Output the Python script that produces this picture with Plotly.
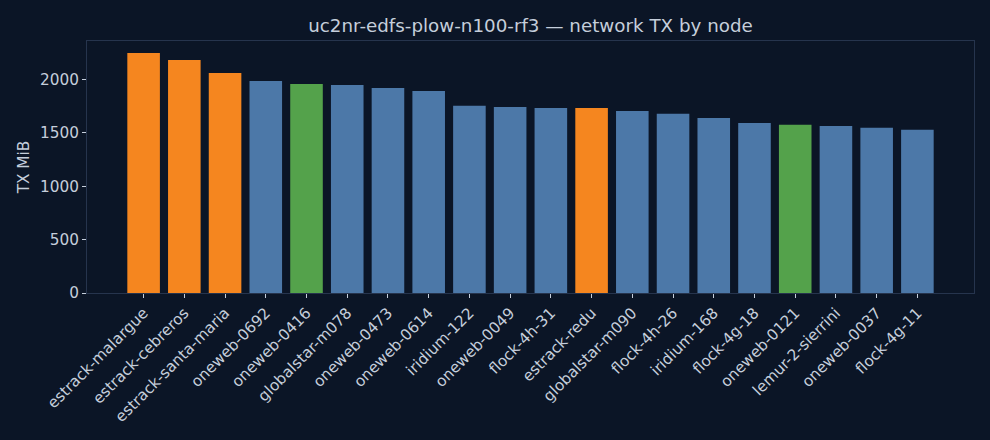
import plotly.graph_objects as go

# Node TX totals (MiB)
nodes = [
    "estrack-malargue", "estrack-cebreros", "estrack-santa-maria", "oneweb-0692",
    "oneweb-0416", "globalstar-m078", "oneweb-0473", "oneweb-0614", "iridium-122",
    "oneweb-0049", "flock-4h-31", "estrack-redu", "globalstar-m090", "flock-4h-26",
    "iridium-168", "flock-4g-18", "oneweb-0121", "lemur-2-sierrini", "oneweb-0037",
    "flock-4g-11",
]
tx_mib = [
    2250, 2184, 2062, 1988, 1959, 1950, 1922, 1894, 1754, 1744,
    1735, 1735, 1707, 1679, 1641, 1594, 1576, 1566, 1548, 1529,
]
# node role: ground station / relay / satellite
roles = [
    "ground", "ground", "ground", "sat", "relay", "sat", "sat", "sat", "sat", "sat",
    "sat", "ground", "sat", "sat", "sat", "sat", "relay", "sat", "sat", "sat",
]

ROLE_COLORS = {"ground": "#f5861f", "relay": "#54a24b", "sat": "#4c78a8"}
BG = "#0b1526"
TEXT = "#c5cedb"
SPINE = "#26344d"

fig = go.Figure(
    go.Bar(
        x=list(range(len(nodes))),
        y=tx_mib,
        width=0.8,
        marker_color=[ROLE_COLORS[r] for r in roles],
        marker_line_width=0,
    )
)

fig.update_layout(
    width=990,
    height=440,
    paper_bgcolor=BG,
    plot_bgcolor=BG,
    font=dict(family="DejaVu Sans", color=TEXT, size=15),
    margin=dict(l=87, r=16, t=41, b=147),
    showlegend=False,
    title=dict(
        text="uc2nr-edfs-plow-n100-rf3 — network TX by node",
        x=0.5, xref="paper", xanchor="center",
        y=1 - 26 / 440, yref="container", yanchor="middle",
        font=dict(size=18.3, color=TEXT),
    ),
)

fig.update_xaxes(
    range=[-1.39, 20.39],
    tickmode="array",
    tickvals=list(range(len(nodes))),
    ticktext=nodes,
    tickangle=-45,
    tickfont=dict(size=15.3),
    ticks="outside", ticklen=4, tickcolor=TEXT,
    showgrid=False, zeroline=False,
    showline=True, linecolor=SPINE, linewidth=1, mirror=True,
)
fig.update_yaxes(
    range=[0, 2362],
    tickvals=[0, 500, 1000, 1500, 2000],
    tickfont=dict(size=15.3),
    ticks="outside", ticklen=4, tickcolor=TEXT,
    showgrid=False, zeroline=False,
    showline=True, linecolor=SPINE, linewidth=1, mirror=True,
    title=dict(text="TX MiB", standoff=6, font=dict(size=15.3)),
)

# drop the default page margin so the figure fills the window
fig.write_html(
    "out.html",
    config={"displayModeBar": False},
    post_script="document.body.style.margin='0';",
)
